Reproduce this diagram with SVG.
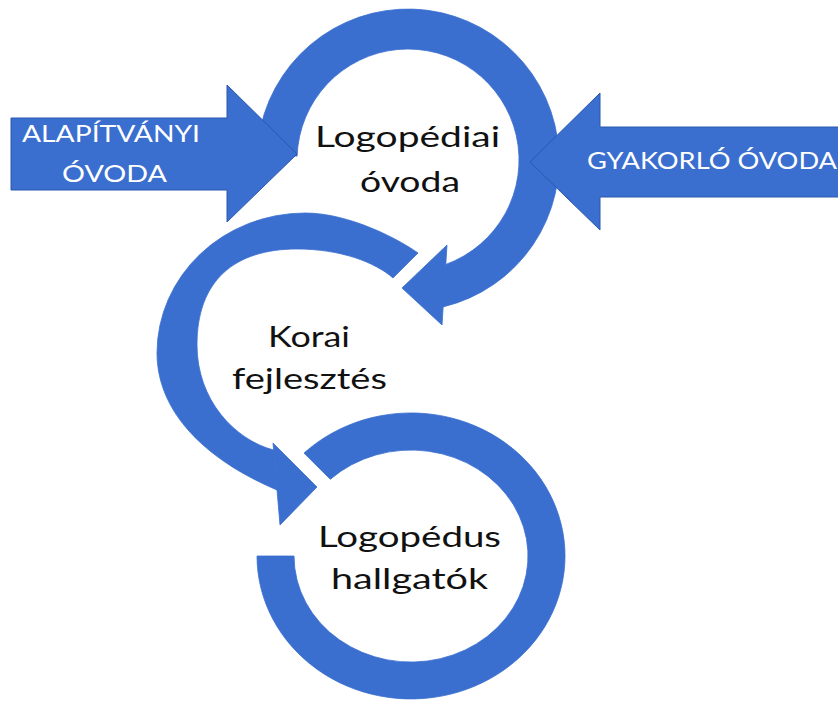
<svg xmlns="http://www.w3.org/2000/svg" width="838" height="702" viewBox="0 0 838 702">
<style>
.band{fill:#3A6ECF;stroke:#3A6ECF;stroke-width:0.8;stroke-linejoin:round}
.head{fill:#3A6ECF;stroke:#3A6ECF;stroke-width:0.8;stroke-linejoin:round}
.big{fill:#3A6ECF;stroke:#2B58AE;stroke-width:1}
.lbl{font-family:Lato,"Liberation Sans",sans-serif;font-size:29px;fill:#111}
.wl{font-family:Lato,"Liberation Sans",sans-serif;font-size:23.5px;fill:#fff}
</style>
<rect width="838" height="702" fill="#fff"/>
<g id="node-logopediai-ovoda">
<path class="band" d="M 257.1 154.7 A 151 151 0 1 1 443.1 306.9 L 445.8 264.4 A 111 111 0 1 0 297.1 156.1 Z"/>
<text class="lbl" x="315" y="147" textLength="185" lengthAdjust="spacingAndGlyphs">Logopédiai</text>
<text class="lbl" x="360" y="192" textLength="100" lengthAdjust="spacingAndGlyphs">óvoda</text>
</g>
<g id="node-korai-fejlesztes">
<path class="band" d="M 418 253 C 400 240 350 213 305 213 A 148 140 0 0 0 157 353 C 157 405 195 455 277 490 L 273.6 450 C 235 440 197 400 197 345 C 197 280 235 249 297 249 C 340 249 375 262 393 278 Z"/>
<text class="lbl" x="268" y="347" textLength="82" lengthAdjust="spacingAndGlyphs">Korai</text>
<text class="lbl" x="232" y="389" textLength="155" lengthAdjust="spacingAndGlyphs">fejlesztés</text>
</g>
<g id="node-logopedus-hallgatok">
<path class="band" d="M 257 556 A 154 143 0 1 0 304 453.1 L 330.3 479.3 A 117 106 0 1 1 294 556 Z"/>
<text class="lbl" x="318" y="547" textLength="183" lengthAdjust="spacingAndGlyphs">Logopédus</text>
<text class="lbl" x="331" y="589" textLength="157" lengthAdjust="spacingAndGlyphs">hallgatók</text>
</g>
<g id="connectors">
<polygon class="head" points="447,245 402,288 442,325"/>
<polygon class="head" points="273,443 317,487 280,525"/>
</g>
<g id="node-alapitvanyi-ovoda">
<polygon class="big" points="11,118 227,118 227,85 297,154 227,222 227,190 11,190"/>
<text class="wl" x="22" y="142" textLength="178" lengthAdjust="spacingAndGlyphs">ALAPÍTVÁNYI</text>
<text class="wl" x="62" y="182" textLength="105" lengthAdjust="spacingAndGlyphs">ÓVODA</text>
</g>
<g id="node-gyakorlo-ovoda">
<polygon class="big" points="845,127 600,127 600,93 530,162 600,230 600,197 845,197"/>
<text class="wl" x="587" y="169" textLength="250" lengthAdjust="spacingAndGlyphs">GYAKORLÓ ÓVODA</text>
</g>
</svg>
